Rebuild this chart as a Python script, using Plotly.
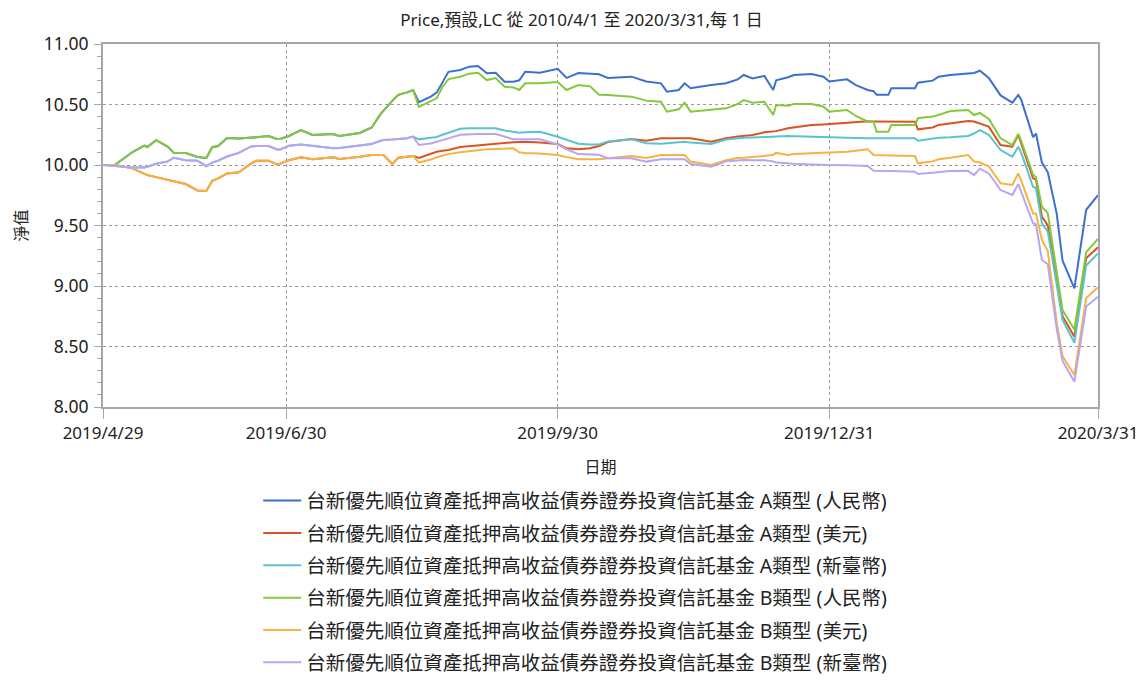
import plotly.graph_objects as go
import pandas as pd

dates = ["2019-04-29","2019-05-03","2019-05-09","2019-05-13","2019-05-14","2019-05-17","2019-05-21","2019-05-23","2019-05-27","2019-05-31",
"2019-06-03","2019-06-05","2019-06-07","2019-06-10","2019-06-14","2019-06-18","2019-06-20","2019-06-24","2019-06-27","2019-06-28",
"2019-07-01","2019-07-05","2019-07-09","2019-07-16","2019-07-18","2019-07-25","2019-07-29","2019-08-01","2019-08-02","2019-08-05",
"2019-08-07","2019-08-10","2019-08-12","2019-08-14","2019-08-18","2019-08-20","2019-08-22","2019-08-24","2019-08-28","2019-08-31",
"2019-09-03","2019-09-06","2019-09-09","2019-09-12","2019-09-15","2019-09-17","2019-09-19","2019-09-24","2019-09-30","2019-10-03",
"2019-10-07","2019-10-11","2019-10-14","2019-10-17","2019-10-25","2019-10-30","2019-11-04","2019-11-06","2019-11-10","2019-11-12",
"2019-11-14","2019-11-21","2019-11-26","2019-11-30","2019-12-02","2019-12-05","2019-12-09","2019-12-12","2019-12-13","2019-12-17",
"2019-12-19","2019-12-25","2019-12-29","2019-12-31","2020-01-06","2020-01-09","2020-01-13","2020-01-15","2020-01-16","2020-01-20",
"2020-01-21","2020-01-29","2020-01-30","2020-02-04","2020-02-06","2020-02-10","2020-02-16","2020-02-18","2020-02-20","2020-02-23",
"2020-02-27","2020-03-02","2020-03-04","2020-03-05","2020-03-09","2020-03-10","2020-03-12","2020-03-14","2020-03-17","2020-03-19",
"2020-03-23","2020-03-27","2020-03-31"]

a_cny = [10.00, 10.00, 10.107, 10.16, 10.149, 10.205, 10.15, 10.10, 10.099, 10.066,
10.058, 10.147, 10.157, 10.223, 10.218, 10.223, 10.23, 10.24, 10.215, 10.215,
10.24, 10.289, 10.248, 10.256, 10.24, 10.265, 10.31, 10.42, 10.45, 10.53,
10.58, 10.60, 10.62,
10.52, 10.565, 10.598, 10.688, 10.77, 10.785, 10.813, 10.818, 10.758, 10.763,
10.688, 10.688, 10.70, 10.771, 10.763, 10.795, 10.72, 10.76, 10.755, 10.75,
10.72, 10.73, 10.69, 10.675, 10.606, 10.62, 10.675, 10.634, 10.661, 10.675,
10.708, 10.744, 10.716, 10.736, 10.62, 10.70, 10.725, 10.744, 10.752, 10.73,
10.69, 10.708, 10.66, 10.62, 10.61, 10.58, 10.58, 10.634, 10.634, 10.68,
10.697, 10.73, 10.744, 10.758, 10.76, 10.779, 10.72, 10.575, 10.515, 10.579,
10.54, 10.23, 10.26, 10.02, 9.94, 9.60, 9.21, 8.98, 9.63, 9.75]

a_usd = [10.00, 10.00, 9.972, 9.93, 9.917, 9.90, 9.875, 9.862, 9.843, 9.79,
9.785, 9.87, 9.89, 9.93, 9.94, 10.01, 10.036, 10.036, 10.005, 10.01,
10.04, 10.064, 10.047, 10.064, 10.05, 10.069, 10.083, 10.083, 10.083, 10.008,
10.06, 10.069, 10.075,
10.058, 10.09, 10.11, 10.118, 10.124, 10.148, 10.155, 10.163, 10.168, 10.175,
10.185, 10.188, 10.19, 10.193, 10.185, 10.174, 10.138, 10.13, 10.138, 10.157,
10.19, 10.215, 10.20, 10.221, 10.221, 10.221, 10.221, 10.221, 10.193, 10.221,
10.235, 10.24, 10.248, 10.27, 10.275, 10.28, 10.303, 10.31, 10.33, 10.335,
10.339, 10.35, 10.355, 10.361, 10.36, 10.36, 10.36, 10.36, 10.358, 10.295,
10.31, 10.331, 10.345, 10.364, 10.36, 10.345, 10.317, 10.165, 10.151, 10.248,
10.18, 9.89, 9.88, 9.573, 9.50, 9.05, 8.75, 8.581, 9.23, 9.32]

a_twd = [10.00, 9.99, 9.98, 9.98, 9.985, 10.01, 10.03, 10.06, 10.04, 10.036,
9.99, 10.02, 10.036, 10.07, 10.10, 10.151, 10.157, 10.157, 10.128, 10.128,
10.16, 10.17, 10.157, 10.138, 10.14, 10.165, 10.174, 10.20, 10.207, 10.21,
10.215, 10.221, 10.235,
10.212, 10.225, 10.232, 10.25, 10.265, 10.30, 10.303, 10.303, 10.303, 10.303,
10.285, 10.275, 10.267, 10.27, 10.275, 10.234, 10.207, 10.175, 10.17, 10.17,
10.195, 10.212, 10.18, 10.175, 10.18, 10.19, 10.193, 10.185, 10.174, 10.21,
10.221, 10.225, 10.227, 10.229, 10.232, 10.235, 10.24, 10.238, 10.233, 10.23,
10.229, 10.225, 10.223, 10.221, 10.221, 10.221, 10.221, 10.221, 10.221, 10.201,
10.221, 10.225, 10.229, 10.24, 10.26, 10.289, 10.25, 10.124, 10.069, 10.151,
10.10, 9.82, 9.81, 9.518, 9.45, 9.00, 8.72, 8.531, 9.17, 9.27]

b_cny = [10.00, 10.00, 10.107, 10.16, 10.149, 10.205, 10.15, 10.10, 10.099, 10.066,
10.058, 10.147, 10.157, 10.223, 10.218, 10.223, 10.23, 10.24, 10.215, 10.215,
10.24, 10.289, 10.248, 10.256, 10.24, 10.265, 10.31, 10.42, 10.45, 10.53,
10.58, 10.60, 10.62,
10.48, 10.523, 10.551, 10.647, 10.71, 10.73, 10.755, 10.763, 10.702, 10.718,
10.647, 10.64, 10.62, 10.675, 10.675, 10.685, 10.62, 10.66, 10.65, 10.58,
10.579, 10.565, 10.532, 10.523, 10.441, 10.46, 10.515, 10.441, 10.46, 10.468,
10.504, 10.537, 10.515, 10.523, 10.413, 10.496, 10.49, 10.504, 10.504, 10.482,
10.441, 10.455, 10.405, 10.358, 10.358, 10.275, 10.275, 10.331, 10.331, 10.386,
10.40, 10.413, 10.446, 10.455, 10.413, 10.43, 10.38, 10.221, 10.165, 10.256,
10.20, 9.92, 9.90, 9.655, 9.60, 9.12, 8.80, 8.64, 9.28, 9.39]

b_usd = [10.00, 10.00, 9.972, 9.93, 9.917, 9.90, 9.875, 9.862, 9.843, 9.79,
9.785, 9.87, 9.89, 9.93, 9.94, 10.01, 10.036, 10.036, 10.005, 10.01,
10.04, 10.064, 10.047, 10.064, 10.05, 10.069, 10.083, 10.083, 10.083, 10.008,
10.06, 10.069, 10.075,
10.02, 10.045, 10.064, 10.078, 10.09, 10.105, 10.115, 10.125, 10.13, 10.133,
10.135, 10.138, 10.105, 10.10, 10.096, 10.083, 10.065, 10.047, 10.047, 10.047,
10.055, 10.074, 10.058, 10.083, 10.083, 10.083, 10.083, 10.028, 10.00, 10.04,
10.058, 10.06, 10.065, 10.074, 10.085, 10.10, 10.083, 10.09, 10.098, 10.10,
10.102, 10.11, 10.118, 10.13, 10.083, 10.083, 10.08, 10.078, 10.074, 10.014,
10.03, 10.047, 10.06, 10.083, 10.03, 10.02, 9.99, 9.849, 9.835, 9.931,
9.87, 9.60, 9.60, 9.38, 9.29, 8.70, 8.42, 8.264, 8.90, 8.99]

b_twd = [10.00, 9.99, 9.98, 9.98, 9.985, 10.01, 10.03, 10.06, 10.04, 10.036,
9.99, 10.02, 10.036, 10.07, 10.10, 10.151, 10.157, 10.157, 10.128, 10.128,
10.16, 10.17, 10.157, 10.138, 10.14, 10.165, 10.174, 10.20, 10.207, 10.21,
10.215, 10.221, 10.235,
10.165, 10.178, 10.19, 10.205, 10.22, 10.25, 10.256, 10.256, 10.256, 10.256,
10.235, 10.212, 10.212, 10.212, 10.212, 10.17, 10.13, 10.09, 10.09, 10.085,
10.055, 10.055, 10.028, 10.047, 10.047, 10.047, 10.047, 10.008, 9.986, 10.03,
10.041, 10.041, 10.04, 10.04, 10.03, 10.02, 10.014, 10.01, 10.005, 10.0,
10.0, 9.998, 9.995, 9.992, 9.953, 9.953, 9.95, 9.95, 9.945, 9.926,
9.936, 9.94, 9.95, 9.953, 9.917, 9.97, 9.93, 9.793, 9.752, 9.843,
9.78, 9.518, 9.51, 9.215, 9.18, 8.65, 8.38, 8.209, 8.83, 8.912]

series_names = [
    "台新優先順位資產抵押高收益債券證券投資信託基金 A類型 (人民幣)",
    "台新優先順位資產抵押高收益債券證券投資信託基金 A類型 (美元)",
    "台新優先順位資產抵押高收益債券證券投資信託基金 A類型 (新臺幣)",
    "台新優先順位資產抵押高收益債券證券投資信託基金 B類型 (人民幣)",
    "台新優先順位資產抵押高收益債券證券投資信託基金 B類型 (美元)",
    "台新優先順位資產抵押高收益債券證券投資信託基金 B類型 (新臺幣)",
]
series_values = [a_cny, a_usd, a_twd, b_cny, b_usd, b_twd]
colors = ["#3D6FD0", "#DC5323", "#5BC3CD", "#84C93C", "#F8B243", "#B7A5F3"]

x_tick_dates = ["2019-04-29", "2019-06-30", "2019-09-30", "2019-12-31", "2020-03-31"]
x_tick_labels = ["2019/4/29", "2019/6/30", "2019/9/30", "2019/12/31", "2020/3/31"]
y_ticks = [8.0, 8.5, 9.0, 9.5, 10.0, 10.5, 11.0]

title_text = "Price,預設,LC 從 2010/4/1 至 2020/3/31,每 1 日"
font_fam = "Noto Sans, Noto Sans CJK TC, sans-serif"

x = pd.to_datetime(dates)
fig = go.Figure()
for i, (name, vals, col) in enumerate(zip(series_names, series_values, colors)):
    fig.add_trace(go.Scatter(x=x, y=vals, mode="lines", name=name,
                             line=dict(color=col, width=2),
                             legendgroup=f"g{i}"))

axis_col = "#A3A7AE"
fig.update_layout(
    width=1147, height=680,
    paper_bgcolor="white", plot_bgcolor="white",
    margin=dict(l=95, r=57, t=36, b=281, autoexpand=False),
    font=dict(family=font_fam, size=15, color="#222222"),
    title=dict(text=title_text, x=0.5, xref="container", y=0.983, yanchor="middle",
               xanchor="center",
               font=dict(size=17, family=font_fam, color="#222222")),
    showlegend=True,
    legend=dict(x=0.156, xanchor="left", y=-0.205, yanchor="top",
                font=dict(size=19.5, family=font_fam, color="#222222"),
                itemwidth=38,
                tracegroupgap=4, traceorder="grouped", bgcolor="rgba(0,0,0,0)"),
    xaxis=dict(
        type="date", range=[x_tick_dates[0], x_tick_dates[-1]],
        tickvals=x_tick_dates, ticktext=x_tick_labels,
        showgrid=True, gridcolor="#9A9A9A", griddash="dot", gridwidth=1,
        showline=True, linecolor=axis_col, linewidth=2, mirror=True,
        ticks="outside", ticklen=10, tickcolor=axis_col,
        tickfont=dict(size=17),
        title=dict(text="日期", standoff=18, font=dict(size=16)),
        zeroline=False,
    ),
    yaxis=dict(
        range=[8, 11], tickvals=y_ticks, tickformat=".2f",
        showgrid=True, gridcolor="#9A9A9A", griddash="dot", gridwidth=1,
        showline=True, linecolor=axis_col, linewidth=2, mirror=True,
        ticks="outside", ticklen=7, tickcolor=axis_col,
        minor=dict(dtick=0.1, ticks="outside", ticklen=4, tickcolor=axis_col, showgrid=False),
        tickfont=dict(size=17.5),
        ticklabelstandoff=2,
        title=dict(text="淨值", standoff=12, font=dict(size=16)),
        zeroline=False,
    ),
)

fig.write_html("out.html")
